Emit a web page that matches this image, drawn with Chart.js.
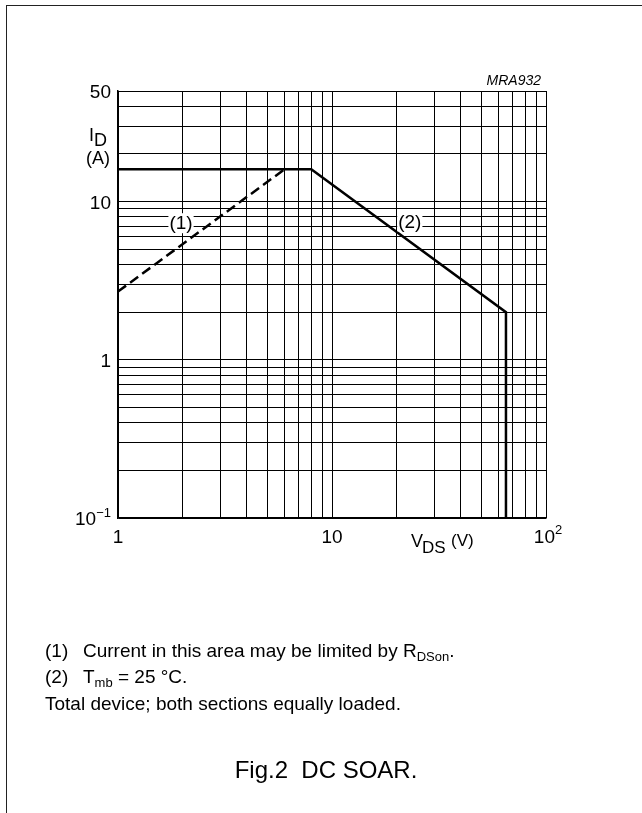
<!DOCTYPE html>
<html lang="en">
<head>
    <meta charset="UTF-8">
    <title>Fig.2 DC SOAR</title>
    <style>
        body {
            margin: 0;
            background: #fff;
            font-family: "Liberation Sans", Arial, sans-serif;
            color: #000;
        }
        #page {
            position: relative;
            width: 642px;
            height: 813px;
            overflow: hidden;
        }
        #frame {
            position: absolute;
            left: 6px;
            top: 5px;
            width: 700px;
            height: 900px;
            border-left: 1.5px solid #222;
            border-top: 1.5px solid #222;
        }
        canvas {
            position: absolute;
            left: 0;
            top: 0;
        }
        .code {
            position: absolute;
            right: 101px;
            top: 73px;
            font-size: 14px;
            line-height: 14px;
            font-style: italic;
        }
        .note {
            position: absolute;
            left: 45px;
            font-size: 19px;
            line-height: 19px;
            white-space: nowrap;
        }
        .note .num {
            display: inline-block;
            width: 38px;
        }
        .note sub {
            font-size: 13px;
            vertical-align: -4px;
            line-height: 0;
        }
        .caption {
            position: absolute;
            left: 10px;
            width: 632px;
            top: 758px;
            font-size: 24px;
            line-height: 24px;
            text-align: center;
        }
    </style>
</head>
<body>
<div id="page">
    <div id="frame"></div>
    <canvas id="soarChart" width="642" height="813"></canvas>
    <div class="code">MRA932</div>
    <div class="note" style="top:641px"><span class="num">(1)</span>Current in this area may be limited by R<sub>DSon</sub>.</div>
    <div class="note" style="top:667px"><span class="num">(2)</span>T<sub>mb</sub> = 25 °C.</div>
    <div class="note" style="top:694px">Total device; both sections equally loaded.</div>
    <div class="caption">Fig.2&nbsp; DC SOAR.</div>
</div>

<script src="https://cdn.jsdelivr.net/npm/chart.js"></script>
<script>
    // curve (1): R_DSon limit, dashed
    const limitV = [1, 6];
    const limitI = [2.7, 16];
    // curve (2): DC SOAR at Tmb = 25 C
    const soarV = [1, 8, 65, 65];
    const soarI = [16, 16, 2, 0.1];

    // grid lines of the log paper
    const xGrid = [1, 2, 3, 4, 5, 6, 7, 8, 9, 10, 20, 30, 40, 50, 60, 70, 80, 90, 100];
    const yGrid = [0.1, 0.2, 0.3, 0.4, 0.5, 0.6, 0.7, 0.8, 0.9, 1, 2, 3, 4, 5, 6, 7, 8, 9, 10, 20, 30, 40, 50];

    // tick labels (base text + superscript)
    const xLabelValues = [1, 10, 100];
    const xLabelText = ['1', '10', '10'];
    const xLabelSup = ['', '', '2'];
    const yLabelValues = [0.1, 1, 10, 50];
    const yLabelText = ['10', '1', '10', '50'];
    const yLabelSup = ['\u22121', '', '', ''];

    // curve markers "(1)" and "(2)"
    const markText = ['(1)', '(2)'];
    const markV = [1.97, 23.1];
    const markI = [7.3, 7.5];

    const FONT = '"Liberation Sans", Arial, sans-serif';

    function toPoints(xs, ys) {
        return xs.map((x, i) => ({ x: x, y: ys[i] }));
    }

    const textPlugin = {
        id: 'soarText',
        afterDraw(chart) {
            const ctx = chart.ctx;
            const xs = chart.scales.x;
            const ys = chart.scales.y;
            const area = chart.chartArea;
            ctx.save();
            ctx.fillStyle = '#000';

            // x tick labels
            ctx.textBaseline = 'alphabetic';
            xLabelValues.forEach((v, i) => {
                const px = xs.getPixelForValue(v);
                ctx.font = '19px ' + FONT;
                const w = ctx.measureText(xLabelText[i]).width;
                ctx.font = '13px ' + FONT;
                const sw = xLabelSup[i] ? ctx.measureText(xLabelSup[i]).width : 0;
                const left = px - (w + sw) / 2 + (sw ? 2 : 0);
                ctx.font = '19px ' + FONT;
                ctx.textAlign = 'left';
                ctx.fillText(xLabelText[i], left, area.bottom + 25);
                if (sw) {
                    ctx.font = '13px ' + FONT;
                    ctx.fillText(xLabelSup[i], left + w, area.bottom + 16);
                }
            });

            // y tick labels, right aligned
            yLabelValues.forEach((v, i) => {
                const py = ys.getPixelForValue(v);
                ctx.font = '13px ' + FONT;
                const sw = yLabelSup[i] ? ctx.measureText(yLabelSup[i]).width : 0;
                const right = area.left - 7;
                ctx.font = '19px ' + FONT;
                ctx.textAlign = 'right';
                ctx.fillText(yLabelText[i], right - sw, py + 7);
                if (sw) {
                    ctx.font = '13px ' + FONT;
                    ctx.textAlign = 'left';
                    ctx.fillText(yLabelSup[i], right - sw, py - 1);
                }
            });

            // axis titles
            ctx.textAlign = 'left';
            ctx.font = '18px ' + FONT;
            ctx.fillText('I', 89, 141);
            ctx.fillText('D', 94, 146);
            ctx.fillText('(A)', 86, 164);
            ctx.fillText('V', 411, 547);
            ctx.font = '17px ' + FONT;
            ctx.fillText('DS', 422, 553);
            ctx.font = '17px ' + FONT;
            ctx.fillText('(V)', 451, 546);

            // curve markers with white background
            ctx.font = '19px ' + FONT;
            ctx.textAlign = 'center';
            ctx.textBaseline = 'middle';
            markText.forEach((t, i) => {
                const px = xs.getPixelForValue(markV[i]);
                const py = ys.getPixelForValue(markI[i]);
                const w = ctx.measureText(t).width;
                ctx.fillStyle = '#fff';
                ctx.fillRect(px - w / 2 - 1, py - 10, w + 2, 20);
                ctx.fillStyle = '#000';
                ctx.fillText(t, px, py + 1);
            });
            ctx.restore();
        }
    };

    new Chart(document.getElementById('soarChart'), {
        type: 'scatter',
        data: {
            datasets: [
                {
                    label: '(1)',
                    data: toPoints(limitV, limitI),
                    showLine: true,
                    borderColor: '#000',
                    borderWidth: 2.5,
                    borderDash: [10, 5],
                    pointRadius: 0,
                    fill: false
                },
                {
                    label: '(2)',
                    data: toPoints(soarV, soarI),
                    showLine: true,
                    borderColor: '#000',
                    borderWidth: 2.5,
                    borderJoinStyle: 'miter',
                    pointRadius: 0,
                    fill: false
                }
            ]
        },
        options: {
            responsive: false,
            animation: false,
            devicePixelRatio: 1,
            layout: {
                padding: { left: 118, right: 96, top: 91, bottom: 295 }
            },
            plugins: {
                legend: { display: false },
                tooltip: { enabled: false },
                title: { display: false }
            },
            scales: {
                x: {
                    type: 'logarithmic',
                    min: 1,
                    max: 100,
                    afterBuildTicks: (scale) => {
                        scale.ticks = xGrid.map(v => ({ value: v }));
                    },
                    ticks: { display: false, autoSkip: false },
                    grid: { color: '#000', lineWidth: 1, drawTicks: false },
                    border: { display: true, color: '#000', width: 1.5 }
                },
                y: {
                    type: 'logarithmic',
                    min: 0.1,
                    max: 50,
                    afterBuildTicks: (scale) => {
                        scale.ticks = yGrid.map(v => ({ value: v }));
                    },
                    ticks: { display: false, autoSkip: false },
                    grid: { color: '#000', lineWidth: 1, drawTicks: false },
                    border: { display: true, color: '#000', width: 1.5 }
                }
            }
        },
        plugins: [textPlugin]
    });
</script>
</body>
</html>
